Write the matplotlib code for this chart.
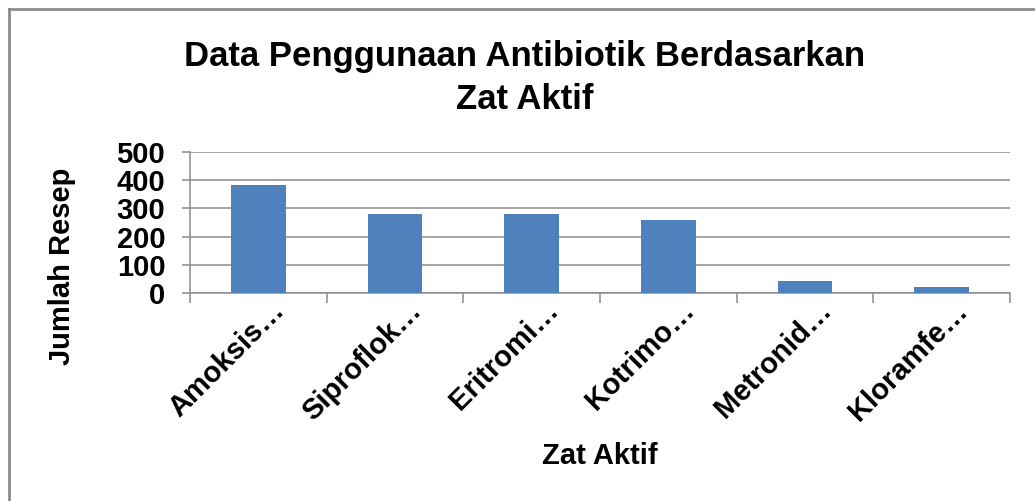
import matplotlib
matplotlib.use("Agg")
import matplotlib.pyplot as plt
from matplotlib.lines import Line2D

categories = ["Amoksis…", "Siproflok…", "Eritromi…", "Kotrimo…", "Metronid…", "Kloramfe…"]
values = [382, 281, 281, 258, 44, 20]
yticks = [0, 100, 200, 300, 400, 500]

plt.rcParams['font.family'] = ['Liberation Sans', 'DejaVu Sans']
plt.rcParams['font.weight'] = 'bold'

W, H = 1035, 501
fig = plt.figure(figsize=(W/100, H/100), dpi=100)
ax = fig.add_axes([190/W, 1-293/H, 820/W, 141/H])

grey = '#8c8c8c'
x = list(range(len(categories)))
ax.bar(x, values, width=0.4, color='#4F81BD', zorder=3)
ax.set_xlim(-0.5, len(categories) - 0.5)
ax.set_ylim(0, 500)
ax.set_yticks(yticks)
ax.set_yticklabels([str(v) for v in yticks], fontsize=21, fontweight='bold')
ax.grid(axis='y', color=grey, linewidth=1.1, zorder=0)
ax.set_axisbelow(True)

ax.set_xticks([i - 0.5 for i in range(len(categories) + 1)])
ax.set_xticklabels([])
ax.tick_params(axis='x', length=7.2, width=1.1, color=grey, direction='out')
ax.tick_params(axis='y', length=5.8, width=1.1, color=grey, direction='out', pad=12)
for s in ['top', 'right']:
    ax.spines[s].set_visible(False)
for s in ['left', 'bottom']:
    ax.spines[s].set_color(grey)
    ax.spines[s].set_linewidth(1.1)

for i, c in enumerate(categories):
    ax.annotate(c, xy=(i, 0), xycoords=('data', 'axes fraction'),
                xytext=(22, -13), textcoords='offset pixels',
                rotation=45, rotation_mode='anchor', ha='right', va='center',
                fontsize=21, fontweight='bold')

fig.text(600/W, 1-456/H, "Zat Aktif", ha='center', va='center', fontsize=21, fontweight='bold')
fig.text(62/W, 1-266/H, "Jumlah Resep", ha='center', va='center', rotation=90, fontsize=21, fontweight='bold')
fig.text(525/W, 1-66/H, "Data Penggunaan Antibiotik Berdasarkan", ha='center', va='baseline',
         fontsize=25, fontweight='bold')
fig.text(525/W, 1-109/H, "Zat Aktif", ha='center', va='baseline',
         fontsize=25, fontweight='bold')

# outer chart border (left and top visible)
fig.add_artist(Line2D([9/W, 9/W], [0, 1-9/H], color=grey, linewidth=2, transform=fig.transFigure))
fig.add_artist(Line2D([9/W, 1], [1-9/H, 1-9/H], color=grey, linewidth=2, transform=fig.transFigure))

fig.savefig("out.png", dpi=100)
